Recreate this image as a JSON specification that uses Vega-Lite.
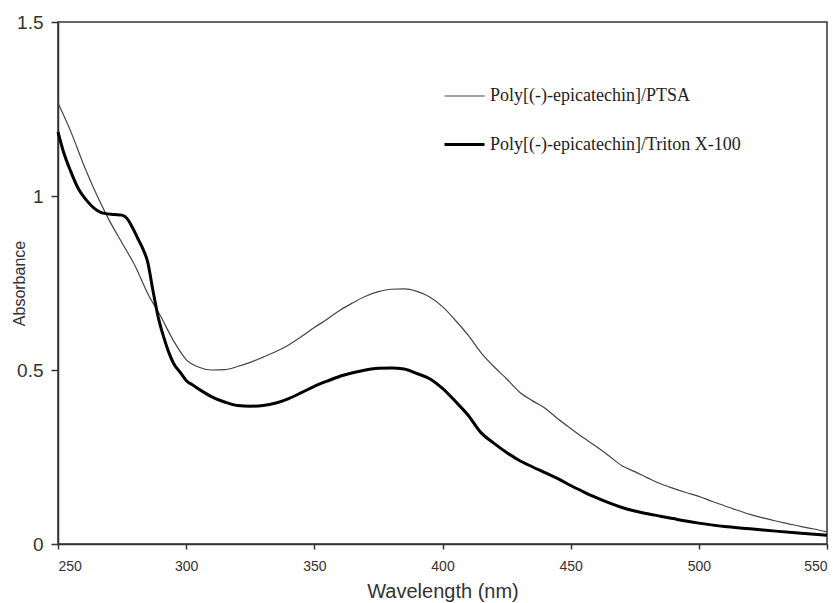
{
  "$schema": "https://vega.github.io/schema/vega-lite/v6.json",
  "width": 769,
  "height": 522,
  "autosize": {"type": "none"},
  "padding": {"left": 58, "top": 22, "right": 12, "bottom": 59},
  "background": "white",
  "config": {
    "view": {"stroke": "#333", "strokeWidth": 1.5},
    "axis": {"grid": false, "domainColor": "#333", "domainWidth": 1.5, "tickColor": "#333", "tickWidth": 1.5, "labelColor": "#333", "titleColor": "#333", "labelFont": "Liberation Sans", "titleFont": "Liberation Sans", "titleFontWeight": "normal"}
  },
  "data": {"values": [
    {"w": 250, "a": 1.267, "s": "Poly[(-)-epicatechin]/PTSA"},
    {"w": 255, "a": 1.185, "s": "Poly[(-)-epicatechin]/PTSA"},
    {"w": 260, "a": 1.09, "s": "Poly[(-)-epicatechin]/PTSA"},
    {"w": 265, "a": 1.005, "s": "Poly[(-)-epicatechin]/PTSA"},
    {"w": 270, "a": 0.93, "s": "Poly[(-)-epicatechin]/PTSA"},
    {"w": 275, "a": 0.865, "s": "Poly[(-)-epicatechin]/PTSA"},
    {"w": 280, "a": 0.8, "s": "Poly[(-)-epicatechin]/PTSA"},
    {"w": 285, "a": 0.72, "s": "Poly[(-)-epicatechin]/PTSA"},
    {"w": 290, "a": 0.655, "s": "Poly[(-)-epicatechin]/PTSA"},
    {"w": 295, "a": 0.585, "s": "Poly[(-)-epicatechin]/PTSA"},
    {"w": 300, "a": 0.53, "s": "Poly[(-)-epicatechin]/PTSA"},
    {"w": 305, "a": 0.508, "s": "Poly[(-)-epicatechin]/PTSA"},
    {"w": 310, "a": 0.5, "s": "Poly[(-)-epicatechin]/PTSA"},
    {"w": 315, "a": 0.501, "s": "Poly[(-)-epicatechin]/PTSA"},
    {"w": 320, "a": 0.51, "s": "Poly[(-)-epicatechin]/PTSA"},
    {"w": 325, "a": 0.522, "s": "Poly[(-)-epicatechin]/PTSA"},
    {"w": 330, "a": 0.537, "s": "Poly[(-)-epicatechin]/PTSA"},
    {"w": 335, "a": 0.553, "s": "Poly[(-)-epicatechin]/PTSA"},
    {"w": 340, "a": 0.572, "s": "Poly[(-)-epicatechin]/PTSA"},
    {"w": 345, "a": 0.596, "s": "Poly[(-)-epicatechin]/PTSA"},
    {"w": 350, "a": 0.622, "s": "Poly[(-)-epicatechin]/PTSA"},
    {"w": 355, "a": 0.646, "s": "Poly[(-)-epicatechin]/PTSA"},
    {"w": 360, "a": 0.672, "s": "Poly[(-)-epicatechin]/PTSA"},
    {"w": 365, "a": 0.693, "s": "Poly[(-)-epicatechin]/PTSA"},
    {"w": 370, "a": 0.712, "s": "Poly[(-)-epicatechin]/PTSA"},
    {"w": 375, "a": 0.725, "s": "Poly[(-)-epicatechin]/PTSA"},
    {"w": 380, "a": 0.732, "s": "Poly[(-)-epicatechin]/PTSA"},
    {"w": 385, "a": 0.733, "s": "Poly[(-)-epicatechin]/PTSA"},
    {"w": 390, "a": 0.726, "s": "Poly[(-)-epicatechin]/PTSA"},
    {"w": 395, "a": 0.71, "s": "Poly[(-)-epicatechin]/PTSA"},
    {"w": 400, "a": 0.682, "s": "Poly[(-)-epicatechin]/PTSA"},
    {"w": 405, "a": 0.643, "s": "Poly[(-)-epicatechin]/PTSA"},
    {"w": 410, "a": 0.6, "s": "Poly[(-)-epicatechin]/PTSA"},
    {"w": 415, "a": 0.55, "s": "Poly[(-)-epicatechin]/PTSA"},
    {"w": 420, "a": 0.51, "s": "Poly[(-)-epicatechin]/PTSA"},
    {"w": 425, "a": 0.475, "s": "Poly[(-)-epicatechin]/PTSA"},
    {"w": 430, "a": 0.437, "s": "Poly[(-)-epicatechin]/PTSA"},
    {"w": 435, "a": 0.412, "s": "Poly[(-)-epicatechin]/PTSA"},
    {"w": 440, "a": 0.39, "s": "Poly[(-)-epicatechin]/PTSA"},
    {"w": 445, "a": 0.36, "s": "Poly[(-)-epicatechin]/PTSA"},
    {"w": 450, "a": 0.332, "s": "Poly[(-)-epicatechin]/PTSA"},
    {"w": 455, "a": 0.305, "s": "Poly[(-)-epicatechin]/PTSA"},
    {"w": 460, "a": 0.28, "s": "Poly[(-)-epicatechin]/PTSA"},
    {"w": 465, "a": 0.253, "s": "Poly[(-)-epicatechin]/PTSA"},
    {"w": 470, "a": 0.225, "s": "Poly[(-)-epicatechin]/PTSA"},
    {"w": 475, "a": 0.208, "s": "Poly[(-)-epicatechin]/PTSA"},
    {"w": 480, "a": 0.19, "s": "Poly[(-)-epicatechin]/PTSA"},
    {"w": 485, "a": 0.173, "s": "Poly[(-)-epicatechin]/PTSA"},
    {"w": 490, "a": 0.16, "s": "Poly[(-)-epicatechin]/PTSA"},
    {"w": 495, "a": 0.148, "s": "Poly[(-)-epicatechin]/PTSA"},
    {"w": 500, "a": 0.137, "s": "Poly[(-)-epicatechin]/PTSA"},
    {"w": 505, "a": 0.123, "s": "Poly[(-)-epicatechin]/PTSA"},
    {"w": 510, "a": 0.11, "s": "Poly[(-)-epicatechin]/PTSA"},
    {"w": 515, "a": 0.097, "s": "Poly[(-)-epicatechin]/PTSA"},
    {"w": 520, "a": 0.085, "s": "Poly[(-)-epicatechin]/PTSA"},
    {"w": 525, "a": 0.075, "s": "Poly[(-)-epicatechin]/PTSA"},
    {"w": 530, "a": 0.066, "s": "Poly[(-)-epicatechin]/PTSA"},
    {"w": 535, "a": 0.058, "s": "Poly[(-)-epicatechin]/PTSA"},
    {"w": 540, "a": 0.05, "s": "Poly[(-)-epicatechin]/PTSA"},
    {"w": 545, "a": 0.043, "s": "Poly[(-)-epicatechin]/PTSA"},
    {"w": 550, "a": 0.035, "s": "Poly[(-)-epicatechin]/PTSA"},
    {"w": 250, "a": 1.184, "s": "Poly[(-)-epicatechin]/Triton X-100"},
    {"w": 252, "a": 1.13, "s": "Poly[(-)-epicatechin]/Triton X-100"},
    {"w": 255, "a": 1.07, "s": "Poly[(-)-epicatechin]/Triton X-100"},
    {"w": 258, "a": 1.02, "s": "Poly[(-)-epicatechin]/Triton X-100"},
    {"w": 261, "a": 0.989, "s": "Poly[(-)-epicatechin]/Triton X-100"},
    {"w": 265, "a": 0.96, "s": "Poly[(-)-epicatechin]/Triton X-100"},
    {"w": 268, "a": 0.95, "s": "Poly[(-)-epicatechin]/Triton X-100"},
    {"w": 272, "a": 0.947, "s": "Poly[(-)-epicatechin]/Triton X-100"},
    {"w": 275, "a": 0.945, "s": "Poly[(-)-epicatechin]/Triton X-100"},
    {"w": 277, "a": 0.935, "s": "Poly[(-)-epicatechin]/Triton X-100"},
    {"w": 279, "a": 0.91, "s": "Poly[(-)-epicatechin]/Triton X-100"},
    {"w": 281, "a": 0.88, "s": "Poly[(-)-epicatechin]/Triton X-100"},
    {"w": 283, "a": 0.85, "s": "Poly[(-)-epicatechin]/Triton X-100"},
    {"w": 285, "a": 0.81, "s": "Poly[(-)-epicatechin]/Triton X-100"},
    {"w": 287, "a": 0.73, "s": "Poly[(-)-epicatechin]/Triton X-100"},
    {"w": 289, "a": 0.655, "s": "Poly[(-)-epicatechin]/Triton X-100"},
    {"w": 291, "a": 0.6, "s": "Poly[(-)-epicatechin]/Triton X-100"},
    {"w": 293, "a": 0.555, "s": "Poly[(-)-epicatechin]/Triton X-100"},
    {"w": 295, "a": 0.52, "s": "Poly[(-)-epicatechin]/Triton X-100"},
    {"w": 298, "a": 0.49, "s": "Poly[(-)-epicatechin]/Triton X-100"},
    {"w": 300, "a": 0.47, "s": "Poly[(-)-epicatechin]/Triton X-100"},
    {"w": 303, "a": 0.455, "s": "Poly[(-)-epicatechin]/Triton X-100"},
    {"w": 306, "a": 0.44, "s": "Poly[(-)-epicatechin]/Triton X-100"},
    {"w": 310, "a": 0.423, "s": "Poly[(-)-epicatechin]/Triton X-100"},
    {"w": 315, "a": 0.408, "s": "Poly[(-)-epicatechin]/Triton X-100"},
    {"w": 320, "a": 0.398, "s": "Poly[(-)-epicatechin]/Triton X-100"},
    {"w": 325, "a": 0.396, "s": "Poly[(-)-epicatechin]/Triton X-100"},
    {"w": 330, "a": 0.398, "s": "Poly[(-)-epicatechin]/Triton X-100"},
    {"w": 335, "a": 0.405, "s": "Poly[(-)-epicatechin]/Triton X-100"},
    {"w": 340, "a": 0.418, "s": "Poly[(-)-epicatechin]/Triton X-100"},
    {"w": 345, "a": 0.435, "s": "Poly[(-)-epicatechin]/Triton X-100"},
    {"w": 350, "a": 0.453, "s": "Poly[(-)-epicatechin]/Triton X-100"},
    {"w": 355, "a": 0.468, "s": "Poly[(-)-epicatechin]/Triton X-100"},
    {"w": 360, "a": 0.482, "s": "Poly[(-)-epicatechin]/Triton X-100"},
    {"w": 365, "a": 0.492, "s": "Poly[(-)-epicatechin]/Triton X-100"},
    {"w": 370, "a": 0.5, "s": "Poly[(-)-epicatechin]/Triton X-100"},
    {"w": 375, "a": 0.505, "s": "Poly[(-)-epicatechin]/Triton X-100"},
    {"w": 380, "a": 0.506, "s": "Poly[(-)-epicatechin]/Triton X-100"},
    {"w": 385, "a": 0.503, "s": "Poly[(-)-epicatechin]/Triton X-100"},
    {"w": 390, "a": 0.49, "s": "Poly[(-)-epicatechin]/Triton X-100"},
    {"w": 395, "a": 0.475, "s": "Poly[(-)-epicatechin]/Triton X-100"},
    {"w": 400, "a": 0.447, "s": "Poly[(-)-epicatechin]/Triton X-100"},
    {"w": 405, "a": 0.41, "s": "Poly[(-)-epicatechin]/Triton X-100"},
    {"w": 410, "a": 0.37, "s": "Poly[(-)-epicatechin]/Triton X-100"},
    {"w": 415, "a": 0.32, "s": "Poly[(-)-epicatechin]/Triton X-100"},
    {"w": 420, "a": 0.29, "s": "Poly[(-)-epicatechin]/Triton X-100"},
    {"w": 425, "a": 0.263, "s": "Poly[(-)-epicatechin]/Triton X-100"},
    {"w": 430, "a": 0.24, "s": "Poly[(-)-epicatechin]/Triton X-100"},
    {"w": 435, "a": 0.222, "s": "Poly[(-)-epicatechin]/Triton X-100"},
    {"w": 440, "a": 0.205, "s": "Poly[(-)-epicatechin]/Triton X-100"},
    {"w": 445, "a": 0.188, "s": "Poly[(-)-epicatechin]/Triton X-100"},
    {"w": 450, "a": 0.168, "s": "Poly[(-)-epicatechin]/Triton X-100"},
    {"w": 455, "a": 0.15, "s": "Poly[(-)-epicatechin]/Triton X-100"},
    {"w": 460, "a": 0.133, "s": "Poly[(-)-epicatechin]/Triton X-100"},
    {"w": 465, "a": 0.118, "s": "Poly[(-)-epicatechin]/Triton X-100"},
    {"w": 470, "a": 0.105, "s": "Poly[(-)-epicatechin]/Triton X-100"},
    {"w": 475, "a": 0.095, "s": "Poly[(-)-epicatechin]/Triton X-100"},
    {"w": 480, "a": 0.087, "s": "Poly[(-)-epicatechin]/Triton X-100"},
    {"w": 485, "a": 0.08, "s": "Poly[(-)-epicatechin]/Triton X-100"},
    {"w": 490, "a": 0.073, "s": "Poly[(-)-epicatechin]/Triton X-100"},
    {"w": 495, "a": 0.066, "s": "Poly[(-)-epicatechin]/Triton X-100"},
    {"w": 500, "a": 0.06, "s": "Poly[(-)-epicatechin]/Triton X-100"},
    {"w": 510, "a": 0.05, "s": "Poly[(-)-epicatechin]/Triton X-100"},
    {"w": 520, "a": 0.044, "s": "Poly[(-)-epicatechin]/Triton X-100"},
    {"w": 530, "a": 0.037, "s": "Poly[(-)-epicatechin]/Triton X-100"},
    {"w": 540, "a": 0.031, "s": "Poly[(-)-epicatechin]/Triton X-100"},
    {"w": 550, "a": 0.025, "s": "Poly[(-)-epicatechin]/Triton X-100"}
  ]},
  "mark": {"type": "line", "interpolate": "monotone"},
  "encoding": {
    "x": {"field": "w", "type": "quantitative", "scale": {"domain": [250, 550], "nice": false},
      "axis": {"values": [250, 300, 350, 400, 450, 500, 550], "title": "Wavelength (nm)", "labelFontSize": 14, "titleFontSize": 20, "tickSize": 5, "labelPadding": 10, "titleY": 53, "titleBaseline": "alphabetic"}},
    "y": {"field": "a", "type": "quantitative", "scale": {"domain": [0, 1.5], "nice": false},
      "axis": {"values": [0, 0.5, 1, 1.5], "format": ".1~f", "title": "Absorbance", "labelFontSize": 19, "titleFontSize": 16, "tickSize": 7, "labelPadding": 8, "titleX": -39, "titleY": 261, "titleBaseline": "middle", "titleAlign": "center", "titleAngle": -90}},
    "color": {"field": "s", "type": "nominal", "scale": {"range": ["#444444", "#000000"]},
      "legend": {"title": null, "orient": "none", "legendX": 385, "legendY": 53, "symbolType": "stroke", "symbolSize": 1600, "labelFont": "Liberation Serif", "labelFontSize": 18, "labelColor": "#222", "rowPadding": 18, "labelOffset": 4, "labelLimit": 400}},
    "strokeWidth": {"field": "s", "type": "nominal", "scale": {"range": [1.2, 3]},
      "legend": {"title": null, "orient": "none", "legendX": 385, "legendY": 53, "symbolType": "stroke", "symbolSize": 1600, "labelFont": "Liberation Serif", "labelFontSize": 18, "labelColor": "#222", "rowPadding": 18, "labelOffset": 4, "labelLimit": 400}}
  }
}
